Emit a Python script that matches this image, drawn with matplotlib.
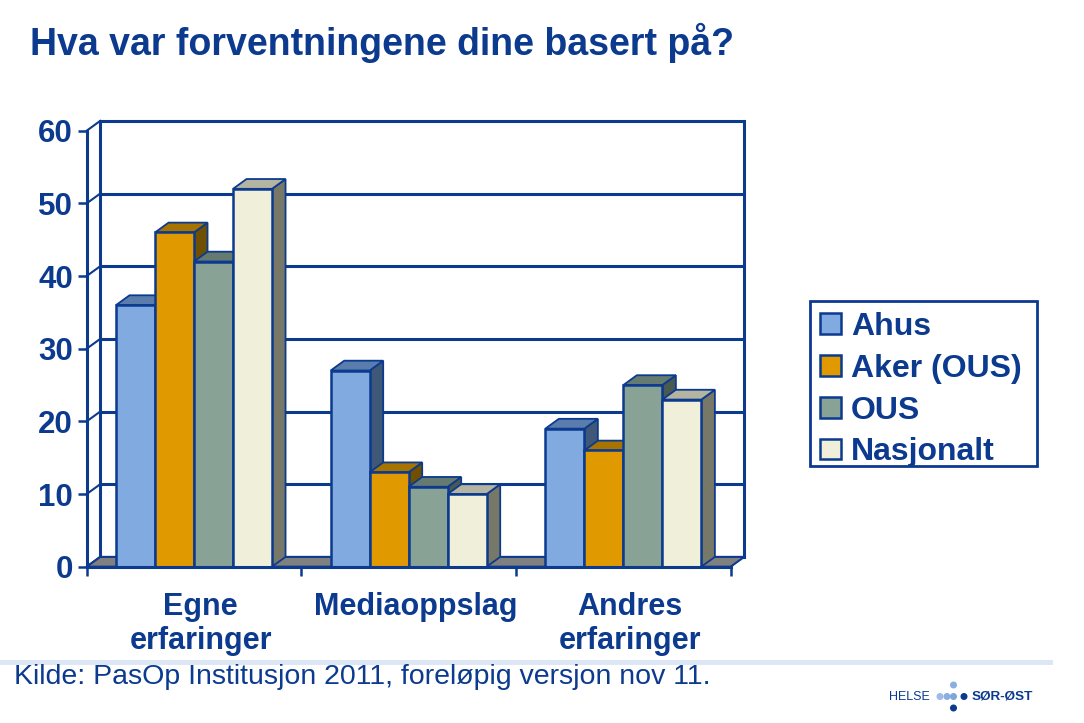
import matplotlib
matplotlib.use("Agg")
import matplotlib.pyplot as plt
from matplotlib.patches import Polygon, Rectangle, Ellipse
from matplotlib.lines import Line2D

# ---------------- data ----------------
categories = ["Egne\nerfaringer", "Mediaoppslag", "Andres\nerfaringer"]
series_names = ["Ahus", "Aker (OUS)", "OUS", "Nasjonalt"]
ahus = [36, 27, 19]
aker = [46, 13, 16]
ous = [42, 11, 25]
nasjonalt = [52, 10, 23]
y_ticks = [0, 10, 20, 30, 40, 50, 60]
title = "Hva var forventningene dine basert på?"
source = "Kilde: PasOp Institusjon 2011, foreløpig versjon nov 11."

# ---------------- style ----------------
NAVY = "#0B3A8E"
front_cols = ["#80AAE0", "#E09A00", "#88A396", "#F0F0DA"]
top_cols = ["#5B7DAE", "#A87400", "#657A70", "#B4B4A2"]
side_cols = ["#3F5878", "#6E5000", "#4A5A52", "#787868"]
FLOOR = "#808080"

plt.rcParams["font.family"] = ["Liberation Sans", "DejaVu Sans"]

W, H = 1084, 723
fig = plt.figure(figsize=(W / 100, H / 100), dpi=100)


def fx(px):
    return px / W


def fy(py):
    return 1 - py / H


x0_px, x1_px = 86.7, 730.7
y0_px, y1_px = 566.7, 130.7
ax = fig.add_axes([fx(x0_px), fy(y0_px), (x1_px - x0_px) / W, (y0_px - y1_px) / H])
ax.set_xlim(0, 3)
ax.set_ylim(0, 60)
ax.set_facecolor("none")

px_per_x = (x1_px - x0_px) / 3
px_per_y = (y0_px - y1_px) / 60
DX = 13.5 / px_per_x
DY = 9.8 / px_per_y
ncat = len(categories)
ymax = y_ticks[-1]

# back wall
ax.add_patch(Rectangle((DX, DY), ncat, ymax, facecolor="white", edgecolor="none",
                       zorder=0.5, clip_on=False))
for v in y_ticks:
    ax.plot([DX, ncat + DX], [v + DY, v + DY], color=NAVY, lw=2.2, zorder=1,
            clip_on=False, solid_capstyle="butt")
    ax.plot([0, DX], [v, v + DY], color=NAVY, lw=1.5, zorder=1, clip_on=False)
for xv in (DX, ncat + DX):
    ax.plot([xv, xv], [DY, ymax + DY], color=NAVY, lw=2.2, zorder=1, clip_on=False)

# floor
ax.add_patch(Polygon([(0, 0), (ncat, 0), (ncat + DX, DY), (DX, DY)], closed=True,
                     facecolor=FLOOR, edgecolor=NAVY, lw=1.5, zorder=1.5, clip_on=False))

# bars
series = [ahus, aker, ous, nasjonalt]
nser = len(series)
bw = 0.1817
gap = (1 - nser * bw) / 2
handles = []
for k, vals in enumerate(series):
    lefts = [i + gap + k * bw for i in range(ncat)]
    for L, h in zip(lefts, vals):
        R = L + bw
        ax.add_patch(Polygon([(R, 0), (R, h), (R + DX, h + DY), (R + DX, DY)], closed=True,
                             facecolor=side_cols[k], edgecolor=NAVY, lw=1.3,
                             zorder=3 + k, clip_on=False))
        ax.add_patch(Polygon([(L, h), (R, h), (R + DX, h + DY), (L + DX, h + DY)], closed=True,
                             facecolor=top_cols[k], edgecolor=NAVY, lw=1.3,
                             zorder=3 + k, clip_on=False))
    b = ax.bar(lefts, vals, width=bw, align="edge", color=front_cols[k], edgecolor=NAVY,
               linewidth=1.8, zorder=3.5 + k, label=series_names[k], clip_on=False)
    handles.append(b)

# axes / ticks
for s in ("top", "right"):
    ax.spines[s].set_visible(False)
for s in ("left", "bottom"):
    ax.spines[s].set_color(NAVY)
    ax.spines[s].set_linewidth(2.2)
    ax.spines[s].set_zorder(10)

ax.set_yticks(y_ticks)
ax.set_yticklabels([str(v) for v in y_ticks], fontsize=22.5, fontweight="bold", color=NAVY)
ax.tick_params(axis="y", length=6.5, width=1.8, color=NAVY, pad=3.5)

ax.set_xticks(range(ncat + 1))
ax.set_xticklabels([])
ax.tick_params(axis="x", which="major", length=6.5, width=1.8, color=NAVY, direction="out")
ax.set_xticks([i + 0.5 + DX / 2 for i in range(ncat)], minor=True)
ax.set_xticklabels(categories, minor=True, fontsize=22, fontweight="bold", color=NAVY,
                   linespacing=1.17)
ax.tick_params(axis="x", which="minor", length=0, pad=18)

# legend (content) + its frame
leg = fig.legend(handles=handles, labels=series_names, loc="upper left",
                 bbox_to_anchor=(fx(814), fy(305.5)), frameon=False,
                 prop={"size": 23, "weight": "bold"},
                 labelcolor=NAVY, handlelength=0.66, handleheight=0.62,
                 handletextpad=0.3, labelspacing=0.37, borderpad=0.2, borderaxespad=0)
fig.add_artist(Rectangle((fx(810), fy(466)), 227 / W, 165 / H, fill=False,
                         edgecolor=NAVY, lw=2, transform=fig.transFigure))

# title
fig.text(fx(30), fy(55), title, fontsize=27, fontweight="bold", color=NAVY,
         ha="left", va="baseline")

# separator line and source
fig.add_artist(Line2D([0, fx(1050)], [fy(662), fy(662)], color="#DCE6F5", lw=3.5))
fig.text(fx(14), fy(684), source, fontsize=20.5, color=NAVY, ha="left", va="baseline")

# logo
fig.text(fx(889), fy(697), "HELSE", fontsize=9, color=NAVY, ha="left", va="center")
fig.text(fx(972), fy(697), "SØR-ØST", fontsize=9.7, fontweight="bold", color=NAVY,
         ha="left", va="center")
for (cx, cy, col) in [(953.5, 685, "#8AAEE0"), (940, 696.5, "#9DBBE8"),
                      (947, 696.5, "#8AAEE0"), (953.5, 696.5, "#7FA5DC"),
                      (964, 696.5, NAVY), (953.5, 708, NAVY)]:
    fig.add_artist(Ellipse((fx(cx), fy(cy)), 5.6 / W, 5.6 / H, color=col,
                           transform=fig.transFigure))

fig.savefig("out.png", dpi=100)
